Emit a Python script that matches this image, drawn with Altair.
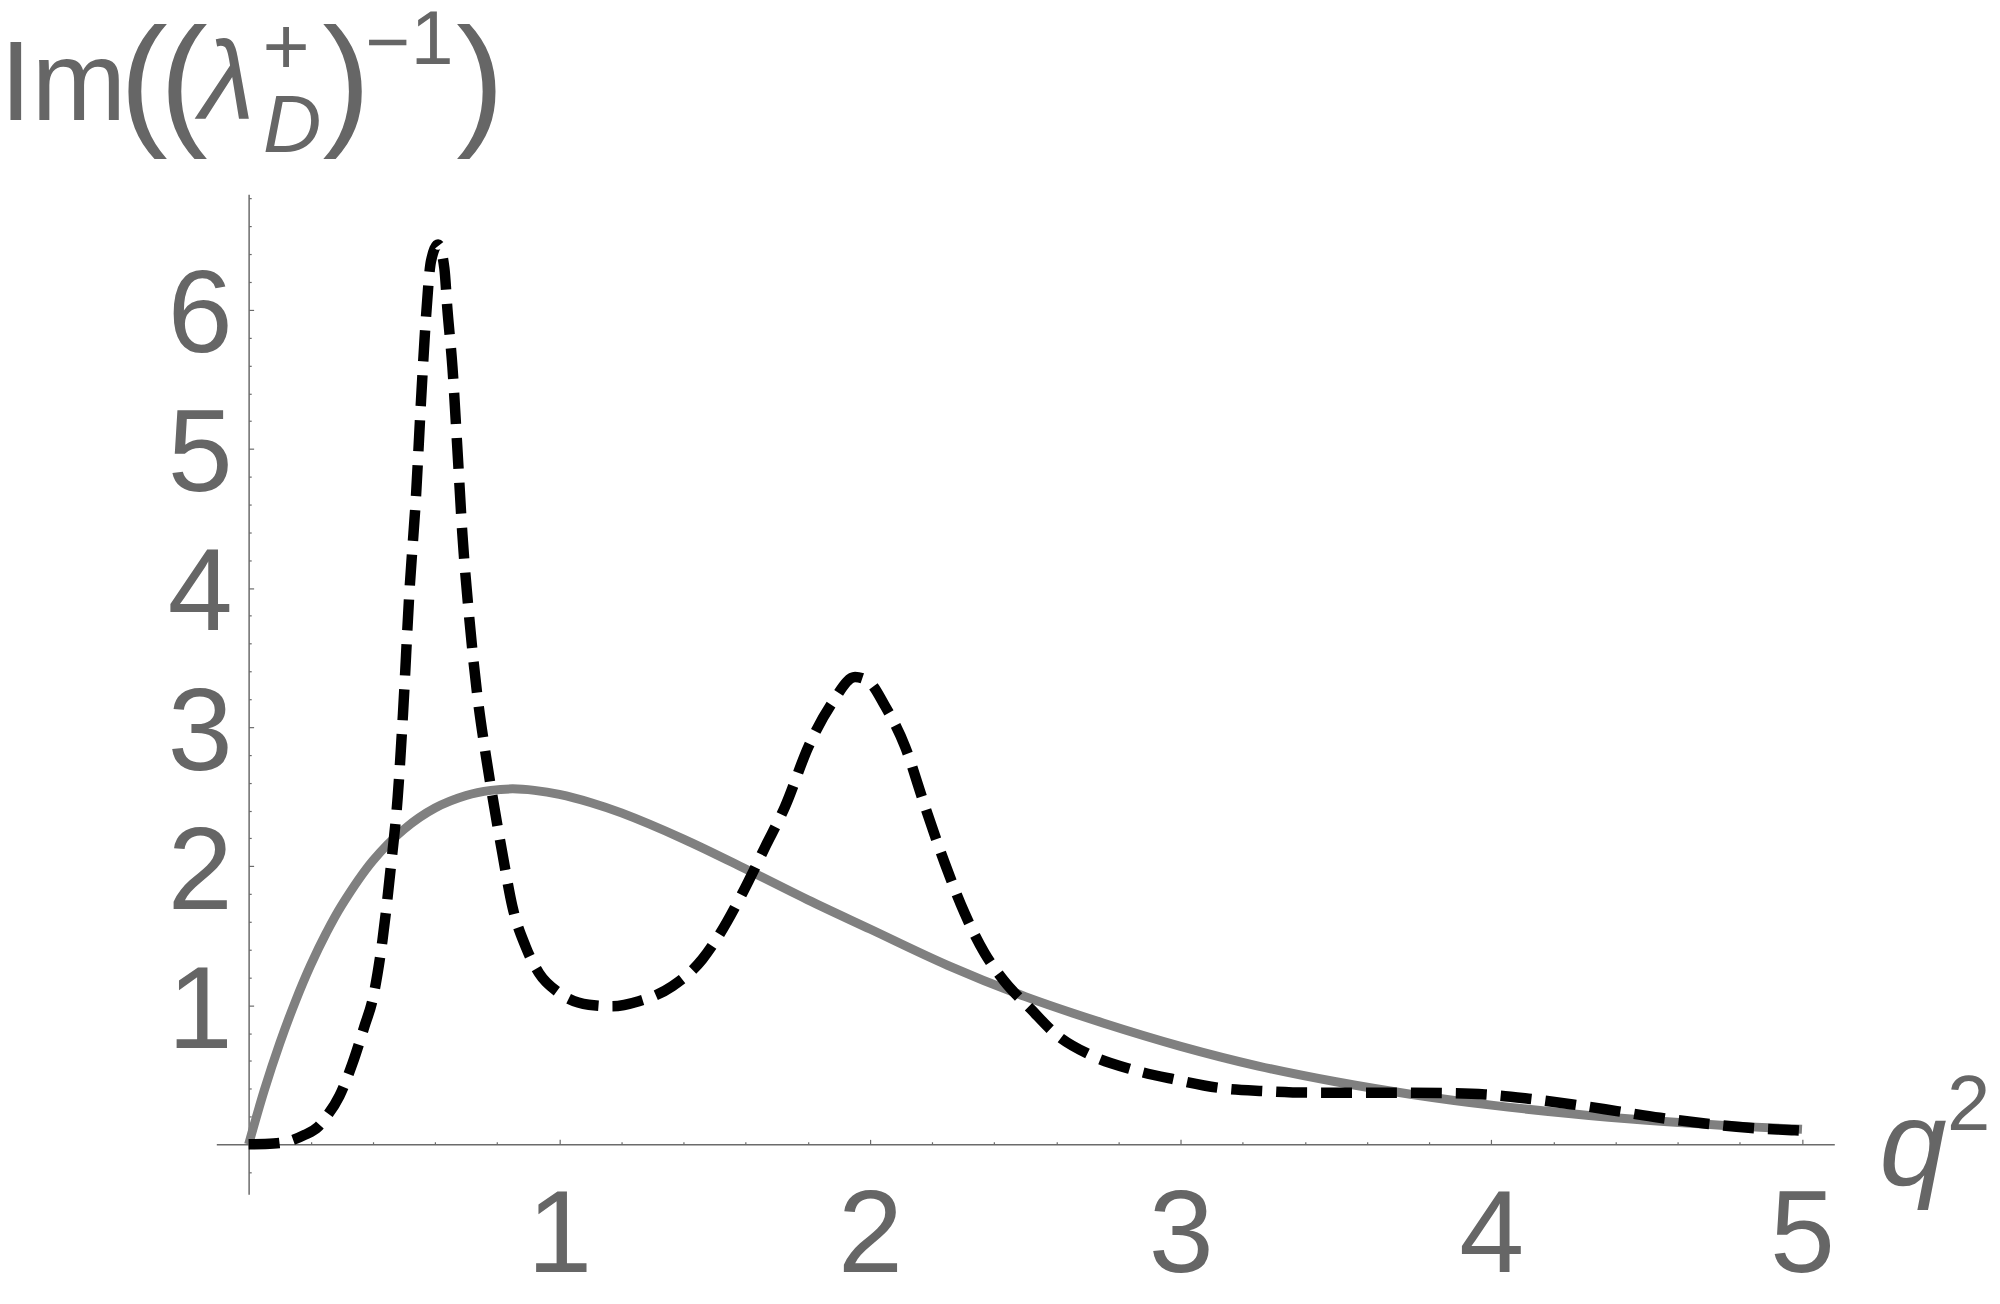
import altair as alt
import pandas as pd

# ---------------- data ----------------
q2_gray = [0.0, 0.05, 0.10, 0.15, 0.20, 0.25, 0.30, 0.40, 0.50, 0.60,
           0.70, 0.78, 0.85, 0.92, 1.00, 1.10, 1.20, 1.40, 1.60, 1.80, 2.00,
           2.25, 2.50, 2.75, 3.00, 3.25, 3.50, 3.75, 4.00, 4.25, 4.50,
           4.75, 5.00]
im_gray = [0.0, 0.386, 0.725, 1.025, 1.290, 1.520, 1.720, 2.040, 2.265, 2.418,
           2.508, 2.545, 2.556, 2.545, 2.516, 2.458, 2.383, 2.195, 1.980, 1.758, 1.548,
           1.287, 1.062, 0.873, 0.705, 0.563, 0.450, 0.357, 0.282, 0.222, 0.173,
           0.136, 0.108]

q2_dash = [0.0, 0.080, 0.132, 0.180, 0.223, 0.249, 0.292, 0.335, 0.373, 0.399,
           0.431, 0.458, 0.480, 0.497, 0.517, 0.539, 0.555, 0.571, 0.587, 0.610,
           0.630, 0.640, 0.656, 0.672, 0.688, 0.710, 0.735, 0.764, 0.785, 0.817,
           0.849, 0.892, 0.935, 0.999, 1.095, 1.170, 1.256, 1.363, 1.460, 1.513,
           1.588, 1.663, 1.727, 1.802, 1.877, 1.952, 1.995, 2.049, 2.113, 2.177,
           2.241, 2.305, 2.369, 2.430, 2.519, 2.594, 2.712, 2.841, 2.980, 3.120,
           3.270, 3.410, 3.550, 3.700, 3.840, 3.980, 4.120, 4.262, 4.404, 4.543,
           4.688, 4.828, 4.967, 5.000]
im_dash = [0.0, 0.006, 0.024, 0.068, 0.125, 0.195, 0.347, 0.586, 0.850, 1.040,
           1.470, 2.000, 2.500, 3.100, 3.950, 4.670, 5.350, 5.950, 6.350, 6.470,
           6.300, 6.000, 5.590, 5.000, 4.390, 3.790, 3.250, 2.790, 2.500, 2.090,
           1.710, 1.420, 1.230, 1.090, 1.004, 0.993, 1.029, 1.136, 1.330, 1.500,
           1.800, 2.140, 2.430, 2.860, 3.170, 3.360, 3.330, 3.150, 2.860, 2.430,
           2.020, 1.660, 1.375, 1.180, 0.970, 0.800, 0.640, 0.540, 0.467, 0.407,
           0.383, 0.372, 0.371, 0.371, 0.369, 0.359, 0.328, 0.287, 0.239, 0.191,
           0.150, 0.119, 0.102, 0.098]

x_label_values = [1, 2, 3, 4, 5]
y_label_values = [1, 2, 3, 4, 5, 6]
x_tick_values = [0.2, 0.4, 0.6, 0.8, 1.0, 1.2, 1.4, 1.6, 1.8, 2.0, 2.2, 2.4, 2.6,
                 2.8, 3.0, 3.2, 3.4, 3.6, 3.8, 4.0, 4.2, 4.4, 4.6, 4.8, 5.0]
y_tick_values = [-0.2, 0.2, 0.4, 0.6, 0.8, 1.0, 1.2, 1.4, 1.6, 1.8, 2.0, 2.2, 2.4,
                 2.6, 2.8, 3.0, 3.2, 3.4, 3.6, 3.8, 4.0, 4.2, 4.4, 4.6, 4.8, 5.0,
                 5.2, 5.4, 5.6, 5.8, 6.0, 6.2, 6.4, 6.6, 6.8]

# ---------------- layout ----------------
PLOT_LEFT_PAGE = 216.7
PLOT_TOP_PAGE = 193.3
PLOT_W = 1621
PLOT_H = 1002
X_DOMAIN = [-0.104, 5.104]
Y_DOMAIN = [-0.359, 6.832]
X0 = PLOT_W * (0 - X_DOMAIN[0]) / (X_DOMAIN[1] - X_DOMAIN[0])   # px from left to q2=0
Y0 = PLOT_H * (0 - Y_DOMAIN[0]) / (Y_DOMAIN[1] - Y_DOMAIN[0])   # px from bottom to 0

FONT = "Liberation Sans"
TXT = "#666666"
AX = "#6b6b6b"
LABEL_SIZE = 117

x_scale = alt.Scale(domain=X_DOMAIN, nice=False, zero=False)
y_scale = alt.Scale(domain=Y_DOMAIN, nice=False, zero=False)

tick_size = {"condition": {"test": "abs(datum.value - round(datum.value)) < 0.01", "value": 5},
             "value": 2.6}

gray_df = pd.DataFrame({"q2": q2_gray, "im": im_gray})
dash_df = pd.DataFrame({"q2": q2_dash, "im": im_dash})

gray = alt.Chart(gray_df).mark_line(
    color="#808080", interpolate="catmull-rom"
).encode(
    x=alt.X("q2:Q", scale=x_scale, axis=alt.Axis(
        orient="bottom", offset=-Y0, values=x_label_values, ticks=False, tickSize=0,
        grid=False, domain=True, domainColor=AX, domainWidth=1.5,
        labelFont=FONT, labelFontSize=LABEL_SIZE, labelColor=TXT,
        labelPadding=35.4, labelBaseline="top", labelAlign="center",
        labelOverlap=False, title=None)),
    y=alt.Y("im:Q", scale=y_scale, axis=alt.Axis(
        orient="left", offset=-X0, values=y_label_values, ticks=False, tickSize=0,
        grid=False, domain=True, domainColor=AX, domainWidth=1.5,
        labelFont=FONT, labelFontSize=LABEL_SIZE, labelColor=TXT,
        labelPadding=16.4, labelBaseline="middle", labelAlign="right",
        labelOffset=7, labelOverlap=False, title=None)),
    strokeWidth=alt.value(9),
)

dash = alt.Chart(dash_df).mark_line(
    color="black", strokeDash=[31, 14], strokeCap="butt",
    interpolate="monotone"
).encode(
    x=alt.X("q2:Q", scale=x_scale, axis=alt.Axis(
        orient="top", offset=-(PLOT_H - Y0), values=x_tick_values, ticks=True,
        tickSize=tick_size, tickColor=AX, tickWidth=1.2, domain=False,
        labels=False, grid=False, title=None)),
    y=alt.Y("im:Q", scale=y_scale, axis=alt.Axis(
        orient="right", offset=-(PLOT_W - X0), values=y_tick_values, ticks=True,
        tickSize=tick_size, tickColor=AX, tickWidth=1.2, domain=False,
        labels=False, grid=False, title=None)),
    strokeWidth=alt.value(10.5),
)


def page_text(s, px, py, size, italic=False):
    return alt.Chart(alt.Data(values=[{}])).mark_text(
        text=s, font=FONT, fontSize=size,
        fontStyle="italic" if italic else "normal",
        color=TXT, align="left", baseline="alphabetic"
    ).encode(x=alt.value(px - PLOT_LEFT_PAGE), y=alt.value(py - PLOT_TOP_PAGE))


title_parts = [
    page_text("Im", 0, 119, 114),
    page_text("(", 119.7, 127.6, 145),
    page_text("(", 159.7, 127.6, 145),
    page_text("λ", 200, 118, 112, italic=True),
    page_text("+", 263, 72.5, 81),
    page_text("D", 263.5, 151, 81, italic=True),
    page_text(")", 323.2, 127.6, 145),
    page_text("\u2212", 366, 66.7, 77),
    page_text("1", 411.6, 63, 77),
    page_text(")", 457.2, 127.6, 145),
    page_text("q", 1883, 1186, 121, italic=True),
    page_text("2", 1950.7, 1131, 78),
]

chart = alt.layer(gray, dash, *title_parts).resolve_axis(
    x="independent", y="independent"
).properties(
    width=PLOT_W, height=PLOT_H,
    autosize=alt.AutoSizeParams(type="none"),
    padding={"left": PLOT_LEFT_PAGE - 8, "top": PLOT_TOP_PAGE - 8,
             "right": 158, "bottom": 96},
    background="white",
).configure_view(strokeWidth=0)

chart.save("out.html", embed_options={"renderer": "svg", "actions": False})
